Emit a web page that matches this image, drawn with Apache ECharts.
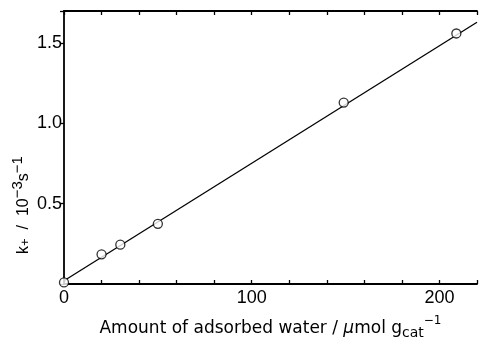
<!DOCTYPE html>
<html>
<head>
<meta charset="utf-8">
<script src="https://cdn.jsdelivr.net/npm/echarts@6/dist/echarts.min.js"></script>
<style>html,body{margin:0;padding:0;background:#fff}#c{width:481px;height:345px}</style>
</head>
<body>
<div id="c"></div>
<script>
// Data
var waterX = [0, 20, 30, 50, 149, 209];          // µmol g_cat^-1
var kPlus  = [0.01, 0.185, 0.245, 0.375, 1.13, 1.56]; // 10^-3 s^-1
var fitX = [0, 220];
var fitY = [0.02, 1.63];
var xTickLabels = [0, 100, 200];
var yTickLabels = [0.5, 1.0, 1.5];

var FONT = 'Liberation Sans';
var NFONT = 'DejaVu Sans';
var chart = echarts.init(document.getElementById('c'), null, {renderer: 'canvas'});

var pts = waterX.map(function (x, i) { return [x, kPlus[i]]; });
var fit = fitX.map(function (x, i) { return [x, fitY[i]]; });

var axisLineStyle = {color: '#000', width: 1.8};

chart.setOption({
  animation: false,
  backgroundColor: '#fff',
  grid: {left: 64, right: 4, top: 11, bottom: 54},
  xAxis: [{
    type: 'value', min: 0, max: 220, interval: 20, position: 'bottom',
    axisLine: {show: true, onZero: false, lineStyle: axisLineStyle},
    axisTick: {show: true, inside: true, length: 4, lineStyle: {color: '#000', width: 1.3}},
    axisLabel: {
      color: '#000', fontFamily: FONT, fontSize: 18, margin: 5,
      formatter: function (v) { return xTickLabels.indexOf(v) >= 0 ? String(v) : ''; }
    },
    splitLine: {show: false},
    name: '{n|Amount of adsorbed water / }{mu|μ}{n|mol g}{sub|cat}{sup|−1}',
    nameLocation: 'middle', nameGap: 31,
    nameTextStyle: {
      color: '#000', fontFamily: NFONT, fontSize: 17,
      rich: {
        n: {fontFamily: NFONT, fontSize: 17, color: '#000', lineHeight: 22, verticalAlign: 'bottom'},
        mu: {fontFamily: NFONT, fontSize: 17, fontStyle: 'italic', color: '#000', lineHeight: 22, verticalAlign: 'bottom'},
        sub: {fontFamily: NFONT, fontSize: 14, color: '#000', lineHeight: 22, verticalAlign: 'bottom', padding: [0, 0, -3, 0]},
        sup: {fontFamily: NFONT, fontSize: 12, color: '#000', lineHeight: 22, verticalAlign: 'top', padding: [0, 0, 2, 0]}
      }
    }
  }, {
    type: 'value', min: 0, max: 220, interval: 20, position: 'top',
    axisLine: {show: true, onZero: false, lineStyle: axisLineStyle},
    axisTick: {show: true, inside: true, length: 4, lineStyle: {color: '#000', width: 1.3}},
    axisLabel: {show: false},
    splitLine: {show: false}
  }],
  yAxis: [{
    type: 'value', min: 0, max: 1.7, interval: 0.5,
    axisLine: {show: true, onZero: false, lineStyle: axisLineStyle},
    axisTick: {show: true, inside: false, length: 4, lineStyle: {color: '#000', width: 1.3}},
    axisLabel: {
      color: '#000', fontFamily: FONT, fontSize: 18, margin: 2,
      formatter: function (v) {
        for (var i = 0; i < yTickLabels.length; i++) {
          if (Math.abs(yTickLabels[i] - v) < 1e-6) return yTickLabels[i].toFixed(1);
        }
        return '';
      }
    },
    splitLine: {show: false}
  }],
  graphic: [{
    type: 'text',
    x: 21, y: 205,
    rotation: Math.PI / 2,
    style: {
      text: '{n|k}{sub|+}{n|  /  10}{sup|−3}{n|s}{sup|−1}',
      align: 'center', verticalAlign: 'middle',
      rich: {
        n: {fontFamily: FONT, fontSize: 16, fill: '#000', lineHeight: 22, verticalAlign: 'bottom'},
        sub: {fontFamily: FONT, fontSize: 13, fill: '#000', lineHeight: 22, verticalAlign: 'bottom'},
        sup: {fontFamily: FONT, fontSize: 15, fill: '#000', lineHeight: 22, verticalAlign: 'top'}
      },
      fill: '#000'
    }
  }],
  series: [{
    type: 'line', data: fit, symbol: 'none', silent: true,
    lineStyle: {color: '#000', width: 1.3}, z: 2
  }, {
    type: 'scatter', data: pts, symbol: 'circle', symbolSize: 9,
    itemStyle: {color: '#fff', borderColor: '#000', borderWidth: 1.3}, z: 3
  }]
});
</script>
</body>
</html>
